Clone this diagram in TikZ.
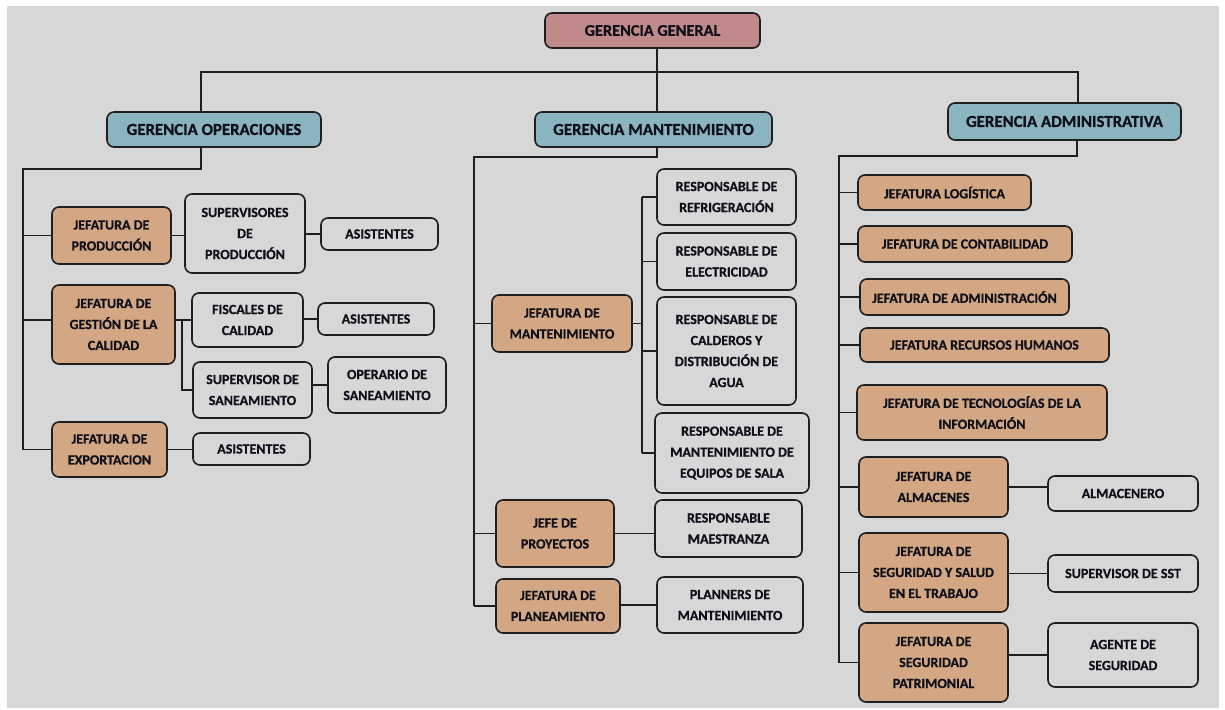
\documentclass[tikz,border=0pt]{standalone}
\usepackage{fontspec}
\setmainfont{Carlito}[BoldFeatures={FakeBold=0.8}]
\definecolor{bgc}{HTML}{D7D7D7}
\definecolor{ggc}{HTML}{C08A8B}
\definecolor{gerc}{HTML}{8AB4C0}
\definecolor{jefc}{HTML}{D3A783}
\definecolor{lnc}{HTML}{1E1E1E}
\definecolor{txc}{HTML}{10101A}
\newcommand\bx[7]{\node[#6, minimum width={(#4-#2)*1pt}, minimum height={(#5-#3)*1pt}] (#1) at ({(#2+#4)/2},{(#3+#5)/2}) {#7};}
\tikzset{
  box/.style={draw=lnc, line width=1.6pt, rounded corners=7pt, inner sep=0pt, outer sep=0pt, align=center, text=txc, font=\bfseries\fontsize{14}{21}\selectfont},
  wbox/.style={box, fill=bgc},
  jef/.style={box, fill=jefc},
  ger/.style={box, fill=gerc, font=\bfseries\fontsize{16.8}{18}\selectfont},
  ggbox/.style={box, fill=ggc, font=\bfseries\fontsize{16.3}{18}\selectfont},
  conn/.style={draw=lnc, line width=1.5pt}
}
\begin{document}
\begin{tikzpicture}[x=1pt,y=-1pt]
\useasboundingbox (0,0) rectangle (1225,709);
\fill[white] (0,0) rectangle (1225,709);
\fill[bgc] (7,6) rectangle (1219,708);

% top level
\bx{gg}{545}{13}{760}{48}{ggbox}{GERENCIA GENERAL}
\bx{go}{107}{112}{321}{147}{ger}{GERENCIA OPERACIONES}
\bx{gm}{535}{112}{772}{147}{ger}{GERENCIA MANTENIMIENTO}
\bx{ga}{948}{103}{1181}{140}{ger}{GERENCIA ADMINISTRATIVA}

% operaciones
\bx{jp}{52}{207}{171}{264}{jef}{JEFATURA DE\\PRODUCCIÓN}
\bx{sup}{185}{194}{305}{273}{wbox}{SUPERVISORES\\DE\\PRODUCCIÓN}
\bx{as1}{321}{218}{438}{250}{wbox}{ASISTENTES}
\bx{jgc}{52}{285}{175}{364}{jef}{JEFATURA DE\\GESTIÓN DE LA\\CALIDAD}
\bx{fc}{192}{293}{303}{347}{wbox}{FISCALES DE\\CALIDAD}
\bx{as2}{318}{303}{434}{335}{wbox}{ASISTENTES}
\bx{ss}{193}{362}{312}{418}{wbox}{SUPERVISOR DE\\SANEAMIENTO}
\bx{os}{328}{357}{446}{413}{wbox}{OPERARIO DE\\SANEAMIENTO}
\bx{je}{52}{422}{167}{477}{jef}{JEFATURA DE\\EXPORTACION}
\bx{as3}{193}{433}{310}{465}{wbox}{ASISTENTES}

% mantenimiento
\bx{jm}{492}{295}{632}{352}{jef}{JEFATURA DE\\MANTENIMIENTO}
\bx{rr}{657}{169}{796}{225}{wbox}{RESPONSABLE DE\\REFRIGERACIÓN}
\bx{re}{657}{233}{796}{290}{wbox}{RESPONSABLE DE\\ELECTRICIDAD}
\bx{rc}{657}{297}{796}{405}{wbox}{RESPONSABLE DE\\CALDEROS Y\\DISTRIBUCIÓN DE\\AGUA}
\bx{rms}{655}{413}{809}{493}{wbox}{RESPONSABLE DE\\MANTENIMIENTO DE\\EQUIPOS DE SALA}
\bx{jpr}{496}{500}{614}{567}{jef}{JEFE DE\\PROYECTOS}
\bx{rma}{655}{500}{802}{557}{wbox}{RESPONSABLE\\MAESTRANZA}
\bx{jpl}{496}{579}{620}{633}{jef}{JEFATURA DE\\PLANEAMIENTO}
\bx{pm}{657}{577}{803}{633}{wbox}{PLANNERS DE\\MANTENIMIENTO}

% administrativa
\bx{jlo}{858}{175}{1031}{210}{jef}{JEFATURA LOGÍSTICA}
\bx{jco}{858}{226}{1072}{262}{jef}{JEFATURA DE CONTABILIDAD}
\bx{jad}{860}{279}{1069}{315}{jef}{JEFATURA DE ADMINISTRACIÓN}
\bx{jrh}{860}{328}{1109}{362}{jef}{JEFATURA RECURSOS HUMANOS}
\bx{jti}{857}{385}{1107}{440}{jef}{JEFATURA DE TECNOLOGÍAS DE LA\\INFORMACIÓN}
\bx{jal}{859}{457}{1008}{517}{jef}{JEFATURA DE\\ALMACENES}
\bx{alm}{1048}{476}{1198}{511}{wbox}{ALMACENERO}
\bx{jss}{859}{533}{1008}{612}{jef}{JEFATURA DE\\SEGURIDAD Y SALUD\\EN EL TRABAJO}
\bx{sst}{1048}{555}{1198}{592}{wbox}{SUPERVISOR DE SST}
\bx{jsp}{859}{623}{1008}{702}{jef}{JEFATURA DE\\SEGURIDAD\\PATRIMONIAL}
\bx{ag}{1048}{623}{1198}{687}{wbox}{AGENTE DE\\SEGURIDAD}

% coordinates
\coordinate (t1) at (201,72);
\coordinate (t2) at (1078,72);
\coordinate (t3) at (657,72);
\coordinate (o1) at (201,169);
\coordinate (o2) at (23,169);
\coordinate (q) at (182,318);
\coordinate (m1) at (657,157);
\coordinate (m2) at (474,157);
\coordinate (m3) at (642,318);
\coordinate (a1) at (1077,156);
\coordinate (a2) at (839,156);

% top connectors
\draw[conn] (t1 |- go.north) -- (t1) -- (t2) -- (t2 |- ga.north);
\draw[conn] (t3 |- gg.south) -- (t3 |- gm.north);

% operaciones connectors
\draw[conn] (o1 |- go.south) -- (o1) -- (o2) -- (o2 |- je.west);
\draw[conn] (o2 |- jp.west) -- (jp.west);
\draw[conn] (o2 |- fc.west) -- (jgc.west |- fc.west);
\draw[conn] (o2 |- je.west) -- (je.west);
\draw[conn] (jp.east) -- (jp.east -| sup.west);
\draw[conn] (sup.east |- as1.west) -- (as1.west);
\draw[conn] (jgc.east |- fc.west) -- (fc.west);
\draw[conn] (q |- fc.west) -- (q |- ss.west) -- (ss.west);
\draw[conn] (fc.east |- as2.west) -- (as2.west);
\draw[conn] (ss.east |- os.west) -- (os.west);
\draw[conn] (je.east) -- (je.east -| as3.west);

% mantenimiento connectors
\draw[conn] (m1 |- gm.south) -- (m1) -- (m2) -- (m2 |- jpl.west);
\draw[conn] (m2 |- jm.west) -- (jm.west);
\draw[conn] (m2 |- jpr.west) -- (jpr.west);
\draw[conn] (m2 |- jpl.west) -- (jpl.west);
\draw[conn] (jm.east) -- (m3 |- jm.east);
\draw[conn] (m3 |- rr.west) -- (m3 |- rms.west);
\draw[conn] (m3 |- rr.west) -- (rr.west);
\draw[conn] (m3 |- re.west) -- (re.west);
\draw[conn] (m3 |- rc.west) -- (rc.west);
\draw[conn] (m3 |- rms.west) -- (rms.west);
\draw[conn] (jpr.east) -- (jpr.east -| rma.west);
\draw[conn] (jpl.east |- pm.west) -- (pm.west);

% administrativa connectors
\draw[conn] (a1 |- ga.south) -- (a1) -- (a2) -- (a2 |- jsp.west);
\foreach \n in {jlo,jco,jad,jrh,jti,jal,jss,jsp}{
  \draw[conn] (a2 |- \n.west) -- (\n.west);
}
\draw[conn] (jal.east) -- (jal.east -| alm.west);
\draw[conn] (jss.east |- sst.west) -- (sst.west);
\draw[conn] (jsp.east |- ag.west) -- (ag.west);
\end{tikzpicture}
\end{document}
